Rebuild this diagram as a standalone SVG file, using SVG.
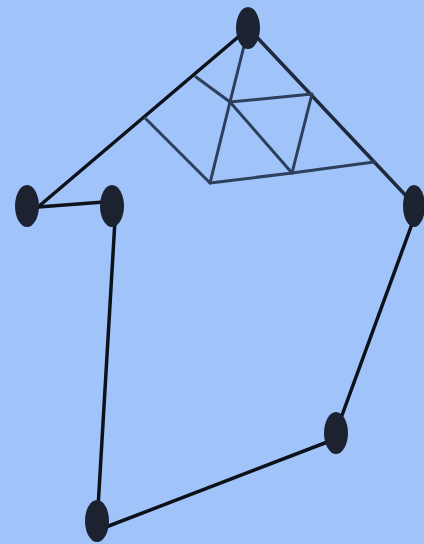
<svg xmlns="http://www.w3.org/2000/svg" width="424" height="544" viewBox="0 0 424 544">
<style>
.edge{stroke:#0d1119;stroke-width:3.5;stroke-linecap:round;fill:none}
.edge2{stroke:#1f2a3d;stroke-width:3.5;stroke-linecap:round;fill:none}
.mesh{stroke:#2e3f5c;stroke-width:3;stroke-linecap:round;stroke-linejoin:round;fill:none}
.node{fill:#1c2230}
</style>
<rect x="0" y="0" width="424" height="544" fill="#a0c4fa"/>
<g id="connectors">
<line class="edge" x1="38" y1="207" x2="244" y2="32"/>
<line class="edge2" x1="252" y1="32" x2="410" y2="200"/>
<line class="edge" x1="38" y1="207" x2="104" y2="202"/>
<line class="edge" x1="115" y1="220" x2="98" y2="508"/>
<line class="edge" x1="106" y1="527" x2="330" y2="441"/>
<line class="edge" x1="341" y1="418" x2="412" y2="224"/>
<g id="mesh">
<polyline class="mesh" points="248,30 230,102 210,183"/>
<polyline class="mesh" points="196,77 230,102 292,173"/>
<polyline class="mesh" points="145,118 210,183 292,173 374,162"/>
<polyline class="mesh" points="230,102 312,94 292,173"/>
</g>
</g>
<g id="n1"><ellipse class="node" cx="248" cy="28" rx="12" ry="21"/></g>
<g id="n2"><ellipse class="node" cx="27" cy="206" rx="12" ry="21"/></g>
<g id="n3"><ellipse class="node" cx="112" cy="206" rx="12" ry="21"/></g>
<g id="n4"><ellipse class="node" cx="414" cy="206" rx="11" ry="21"/></g>
<g id="n5"><ellipse class="node" cx="336" cy="433" rx="12" ry="21"/></g>
<g id="n6"><ellipse class="node" cx="97" cy="521" rx="12" ry="21"/></g>
</svg>
